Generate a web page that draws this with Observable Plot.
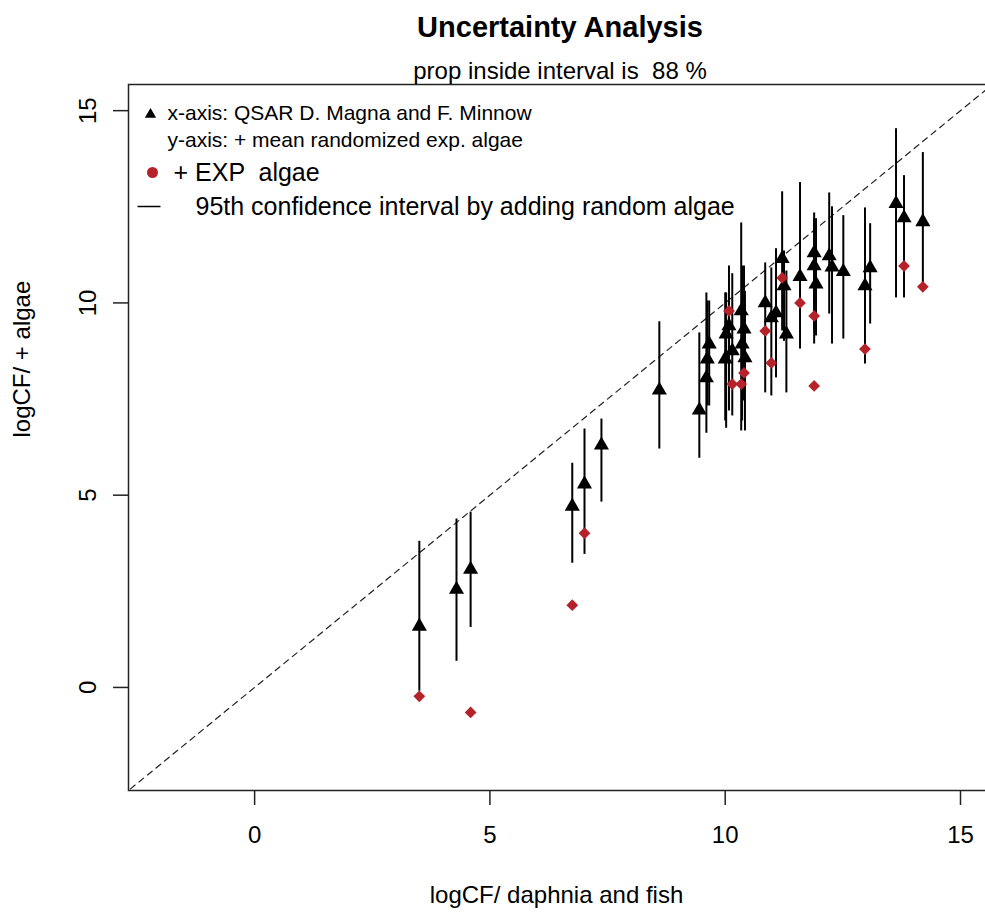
<!DOCTYPE html>
<html>
<head>
<meta charset="utf-8">
<script src="https://cdn.jsdelivr.net/npm/d3@7"></script>
<script src="https://cdn.jsdelivr.net/npm/@observablehq/plot@0.6"></script>
<style>
  html, body { margin: 0; padding: 0; background: #fff; overflow: hidden; }
  #wrap { position: relative; width: 985px; height: 914px; overflow: hidden; background: #fff; font-family: "Liberation Sans", Arial, sans-serif; color: #000; }
  #title { position: absolute; left: 128px; width: 864px; top: 10px; line-height: 34px; text-align: center; font-weight: bold; font-size: 29px; z-index: 2; }
  #subtitle { position: absolute; left: 128px; width: 864px; top: 57px; line-height: 28px; text-align: center; font-size: 24px; white-space: pre; z-index: 2; }
  #chart { position: absolute; left: 0; top: 80px; width: 994px; z-index: 1; }
  #chart svg { max-width: none !important; width: 994px !important; height: 834px !important; }
</style>
</head>
<body>
<div id="wrap">
  <div id="title"></div>
  <div id="subtitle"></div>
  <div id="chart"></div>
</div>
<script>
// ---- data ----
const titleText = "Uncertainty Analysis";
const subtitleText = "prop inside interval is  88 %";
const xLabel = "logCF/ daphnia and fish";
const yLabel = "logCF/ + algae";
const xTicks = [0, 5, 10, 15];
const yTicks = [0, 5, 10, 15];
const refLine = [-3, 16];

// QSAR value (x), mean randomized (triangle), 95% interval, experimental algae (red)
const qsarX = [3.50, 4.29, 4.59, 6.75, 7.01, 7.37, 8.60, 9.45, 9.60, 9.62, 9.66, 10.00, 10.02, 10.08, 10.15, 10.34, 10.36, 10.40, 10.42, 10.85, 10.98, 11.08, 11.21, 11.25, 11.30, 11.59, 11.89, 11.89, 11.93, 12.21, 12.27, 12.51, 12.97, 13.08, 13.63, 13.80, 14.20];
const meanY = [1.59, 2.55, 3.07, 4.71, 5.29, 6.30, 7.73, 7.21, 8.05, 8.54, 8.93, 8.54, 9.19, 9.40, 8.75, 9.79, 8.93, 9.32, 8.57, 10.00, 9.61, 9.74, 11.15, 10.44, 9.19, 10.68, 11.30, 10.96, 10.49, 11.22, 10.93, 10.81, 10.44, 10.91, 12.58, 12.21, 12.11];
const lowY  = [-0.10, 0.68, 1.56, 3.23, 3.46, 4.82, 6.20, 5.96, 6.61, 7.32, 7.32, 6.93, 6.74, 7.19, 7.06, 6.67, 6.93, 7.45, 6.67, 7.66, 7.58, 8.05, 9.27, 9.00, 7.66, 8.80, 8.93, 9.27, 9.14, 9.71, 8.93, 9.06, 8.41, 9.45, 10.13, 10.13, 10.42];
const highY = [3.80, 4.38, 4.56, 5.83, 6.72, 6.98, 9.51, 9.22, 10.26, 10.05, 10.05, 10.26, 10.26, 10.96, 10.76, 12.08, 10.96, 10.96, 10.30, 11.04, 10.91, 11.41, 12.89, 11.35, 10.83, 13.13, 12.34, 12.19, 12.19, 12.86, 12.50, 12.27, 12.47, 12.06, 14.53, 13.31, 13.91];
const expY  = [-0.23, null, -0.65, 2.14, 4.01, null, null, null, null, null, null, null, null, 9.79, 7.89, 7.89, null, 8.18, null, 9.27, 8.44, null, 10.65, null, null, 10.00, 9.66, 7.84, null, null, null, null, 8.80, null, null, 10.96, 10.42];

const legendLines = [
  "x-axis: QSAR D. Magna and F. Minnow",
  "y-axis: + mean randomized exp. algae",
  "+ EXP  algae",
  "95th confidence interval by adding random algae"
];

const points = qsarX.map((x, i) => ({x, mean: meanY[i], lo: lowY[i], hi: highY[i], exp: expY[i]}));

document.getElementById("title").textContent = titleText;
document.getElementById("subtitle").textContent = subtitleText;

const red = "#b5222a";
const hLine = { draw(ctx, size) { const r = Math.sqrt(size / Math.PI); ctx.moveTo(-r, 0); ctx.lineTo(r, 0); } };

const chart = Plot.plot({
  width: 994,
  height: 834,
  marginTop: 4,
  marginBottom: 124,
  marginLeft: 128,
  marginRight: 2,
  x: {domain: [-2.68, 15.68]},
  y: {domain: [-2.68, 15.68]},
  style: {fontFamily: "'Liberation Sans', Arial, sans-serif", fontSize: "24px", background: "transparent", color: "black"},
  marks: [
    Plot.frame({stroke: "#222", strokeWidth: 1.5}),
    Plot.line(refLine, {x: d => d, y: d => d, stroke: "#222", strokeWidth: 1.2, strokeDasharray: "6,5", clip: true}),
    Plot.ruleX(points, {x: "x", y1: "lo", y2: "hi", stroke: "black", strokeWidth: 2}),
    Plot.dot(points, {x: "x", y: "mean", symbol: "triangle", r: 5.6, fill: "black", stroke: "none"}),
    Plot.dot(points, {x: "x", y: "exp", symbol: "diamond2", r: 5.3, fill: red, stroke: "none"}),
    Plot.axisX({ticks: xTicks, tickSize: 15, tickPadding: 20, fontSize: 24, label: null, stroke: "#222", strokeWidth: 1.5}),
    Plot.axisY({ticks: yTicks, tickSize: 15, tickPadding: 18, tickRotate: -90, fontSize: 24, label: null, stroke: "#222", strokeWidth: 1.5}),
    Plot.text([xLabel], {text: d => d, frameAnchor: "bottom", dx: -4, dy: 105, fontSize: 24, lineAnchor: "middle"}),
    Plot.text([yLabel], {text: d => d, frameAnchor: "left", dx: -106, rotate: -90, fontSize: 24, lineAnchor: "middle"}),
    // legend
    Plot.dot([legendLines[0]], {frameAnchor: "top-left", dx: 22, dy: 30, symbol: "triangle", r: 4.2, fill: "black", stroke: "none"}),
    Plot.text([legendLines[0]], {text: d => d, frameAnchor: "top-left", dx: 39, dy: 29, fontSize: 21, textAnchor: "start", lineAnchor: "middle"}),
    Plot.text([legendLines[1]], {text: d => d, frameAnchor: "top-left", dx: 39, dy: 56, fontSize: 21, textAnchor: "start", lineAnchor: "middle"}),
    Plot.dot([legendLines[2]], {frameAnchor: "top-left", dx: 24, dy: 88, r: 5.5, fill: red, stroke: "none"}),
    Plot.text([legendLines[2]], {text: d => d, frameAnchor: "top-left", dx: 45, dy: 88, fontSize: 25, textAnchor: "start", lineAnchor: "middle"}),
    Plot.dot([legendLines[3]], {frameAnchor: "top-left", dx: 20.5, dy: 122, symbol: hLine, r: 11.5, fill: "none", stroke: "black", strokeWidth: 1.5}),
    Plot.text([legendLines[3]], {text: d => d, frameAnchor: "top-left", dx: 67, dy: 122, fontSize: 25, textAnchor: "start", lineAnchor: "middle"})
  ]
});
document.getElementById("chart").appendChild(chart);
</script>
</body>
</html>
